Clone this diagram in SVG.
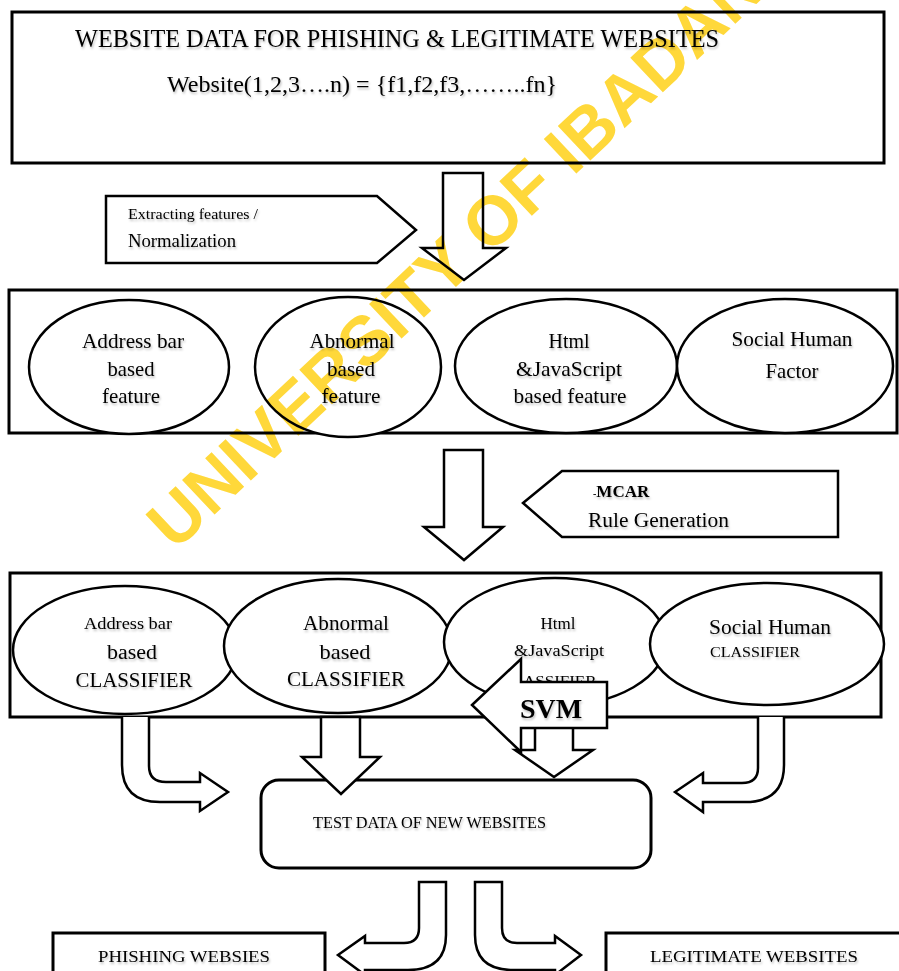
<svg xmlns="http://www.w3.org/2000/svg" width="899" height="971" viewBox="0 0 899 971">
<defs>
<filter id="sh" x="-5%" y="-20%" width="110%" height="150%">
<feDropShadow dx="1" dy="2" stdDeviation="1" flood-color="#000" flood-opacity="0.25"/>
</filter>
</defs>
<style>
.box{fill:#fff;stroke:#000;stroke-width:3}
.ell{fill:#fff;stroke:#000;stroke-width:2.5}
.arr{fill:#fff;stroke:#000;stroke-width:2.5;stroke-linejoin:miter}
.t{font-family:"Liberation Serif","Times New Roman",serif;fill:#000;filter:url(#sh)}
.c{text-anchor:middle}
.b{font-weight:bold}
.wm{font-family:"Liberation Sans",Arial,sans-serif;font-weight:bold;fill:#FFD83A;mix-blend-mode:multiply}
</style>
<rect width="899" height="971" fill="#fff"/>

<g id="website-data">
<rect class="box" x="12" y="12" width="872" height="151"/>
<text class="t" x="75" y="47" font-size="25" textLength="644" lengthAdjust="spacingAndGlyphs">WEBSITE DATA FOR PHISHING &amp; LEGITIMATE WEBSITES</text>
<text class="t" x="167" y="92" font-size="24" textLength="390" lengthAdjust="spacingAndGlyphs">Website(1,2,3….n) = {f1,f2,f3,……..fn}</text>
</g>

<g id="extracting-label">
<polygon class="arr" points="106,196 377,196 416,230 377,263 106,263"/>
<text class="t" x="128" y="219" font-size="15" textLength="130" lengthAdjust="spacingAndGlyphs">Extracting features /</text>
<text class="t" x="128" y="247" font-size="18" textLength="108" lengthAdjust="spacingAndGlyphs">Normalization</text>
</g>

<g id="features">
<rect class="box" x="9" y="290" width="888" height="143"/>
<g id="f-address">
<ellipse class="ell" cx="129" cy="367" rx="100" ry="67"/>
<text class="t c" font-size="21"><tspan x="133" y="348" textLength="102" lengthAdjust="spacingAndGlyphs">Address bar</tspan><tspan x="131" y="376" textLength="47" lengthAdjust="spacingAndGlyphs">based</tspan><tspan x="131" y="403" textLength="58" lengthAdjust="spacingAndGlyphs">feature</tspan></text>
</g>
<g id="f-abnormal">
<ellipse class="ell" cx="348" cy="367" rx="93" ry="70"/>
<text class="t c" font-size="21"><tspan x="352" y="348" textLength="85" lengthAdjust="spacingAndGlyphs">Abnormal</tspan><tspan x="351" y="376" textLength="48" lengthAdjust="spacingAndGlyphs">based</tspan><tspan x="351" y="403" textLength="59" lengthAdjust="spacingAndGlyphs">feature</tspan></text>
</g>
<g id="f-html">
<ellipse class="ell" cx="566" cy="366" rx="111" ry="67"/>
<text class="t c" font-size="21"><tspan x="569" y="348" textLength="41" lengthAdjust="spacingAndGlyphs">Html</tspan><tspan x="569" y="376" textLength="106" lengthAdjust="spacingAndGlyphs">&amp;JavaScript</tspan><tspan x="570" y="403" textLength="113" lengthAdjust="spacingAndGlyphs">based feature</tspan></text>
</g>
<g id="f-social">
<ellipse class="ell" cx="785" cy="366" rx="108" ry="67"/>
<text class="t c" font-size="21"><tspan x="792" y="346" textLength="121" lengthAdjust="spacingAndGlyphs">Social Human</tspan><tspan x="792" y="378" textLength="53" lengthAdjust="spacingAndGlyphs">Factor</tspan></text>
</g>
</g>

<g id="mcar-label">
<polygon class="arr" points="523,503 562,471 838,471 838,537 562,537"/>
<text class="t b" x="593" y="497" font-size="17"><tspan font-size="10">-</tspan>MCAR</text>
<text class="t" x="588" y="527" font-size="20" textLength="141" lengthAdjust="spacingAndGlyphs">Rule Generation</text>
</g>

<g id="classifiers">
<rect class="box" x="10" y="573" width="871" height="144"/>
<g id="c-address">
<ellipse class="ell" cx="125" cy="650" rx="112" ry="64"/>
<text class="t c"><tspan x="128" y="629" font-size="17" textLength="88" lengthAdjust="spacingAndGlyphs">Address bar</tspan><tspan x="132" y="659" font-size="20" textLength="50" lengthAdjust="spacingAndGlyphs">based</tspan><tspan x="134" y="687" font-size="21" textLength="117" lengthAdjust="spacingAndGlyphs">CLASSIFIER</tspan></text>
</g>
<g id="c-abnormal">
<ellipse class="ell" cx="338" cy="646" rx="114" ry="67"/>
<text class="t c" font-size="21"><tspan x="346" y="630" textLength="86" lengthAdjust="spacingAndGlyphs">Abnormal</tspan><tspan x="345" y="659" textLength="51" lengthAdjust="spacingAndGlyphs">based</tspan><tspan x="346" y="686" textLength="118" lengthAdjust="spacingAndGlyphs">CLASSIFIER</tspan></text>
</g>
<g id="c-html">
<ellipse class="ell" cx="555" cy="642" rx="111" ry="64"/>
<text class="t c"><tspan x="558" y="629" font-size="17" textLength="35" lengthAdjust="spacingAndGlyphs">Html</tspan><tspan x="559" y="656" font-size="17" textLength="90" lengthAdjust="spacingAndGlyphs">&amp;JavaScript</tspan><tspan x="549" y="686" font-size="15" textLength="95" lengthAdjust="spacingAndGlyphs">CLASSIFIER</tspan></text>
</g>
<g id="c-social">
<ellipse class="ell" cx="767" cy="644" rx="117" ry="61"/>
<text class="t c"><tspan x="770" y="634" font-size="20" textLength="122" lengthAdjust="spacingAndGlyphs">Social Human</tspan><tspan x="755" y="657" font-size="14" textLength="90" lengthAdjust="spacingAndGlyphs">CLASSIFIER</tspan></text>
</g>
</g>

<g id="test-data">
<rect class="box" x="261" y="780" width="390" height="88" rx="18" stroke-width="2.5"/>
<text class="t" x="313" y="828" font-size="16" textLength="233" lengthAdjust="spacingAndGlyphs">TEST DATA OF NEW WEBSITES</text>
</g>

<g id="phishing">
<rect class="box" x="53" y="933" width="272" height="50" stroke-width="2.5"/>
<text class="t" x="98" y="962" font-size="17" textLength="172" lengthAdjust="spacingAndGlyphs">PHISHING WEBSIES</text>
</g>

<g id="legitimate">
<rect class="box" x="606" y="933" width="300" height="50" stroke-width="2.5"/>
<text class="t" x="650" y="962" font-size="17" textLength="208" lengthAdjust="spacingAndGlyphs">LEGITIMATE WEBSITES</text>
</g>

<g id="connectors">
<polygon class="arr" points="443,173 483,173 483,248 506,248 464,280 422,248 443,248"/>
<polygon class="arr" points="444,450 483,450 483,527 503,527 464,560 424,527 444,527"/>
<path class="arr" d="M122,717 L122,765 Q122,802 160,802 L200,802 L200,811 L228,792 L200,773 L200,782 L166,782 Q149,782 149,766 L149,717"/>
<polygon class="arr" points="321,717 360,717 360,757 380,757 341,794 302,757 321,757"/>
<polygon class="arr" points="535,717 573,717 573,750 593,750 554,777 515,750 535,750"/>
<path class="arr" d="M758,717 L758,768 Q758,783 742,783 L703,783 L703,773 L675,792 L703,812 L703,802 L745,802 Q784,802 784,765 L784,717"/>
<g id="svm">
<polygon class="arr" points="472,705 521,659 521,682 607,682 607,728 521,728 521,752"/>
<text class="t b" x="551" y="718" font-size="28" text-anchor="middle">SVM</text>
</g>
<path class="arr" d="M446,882 L446,935 Q446,970 408,970 L365,970 L365,975 L338,955 L365,936 L365,943 L404,943 Q419,943 419,928 L419,882 Z"/>
<path class="arr" d="M475,882 L475,935 Q475,970 513,970 L555,970 L555,975 L581,955 L555,936 L555,943 L517,943 Q502,943 502,928 L502,882 Z"/>
</g>

<text class="wm" font-size="69" transform="translate(175,552) rotate(-43.3)">UNIVERSITY OF IBADAN</text>
</svg>
